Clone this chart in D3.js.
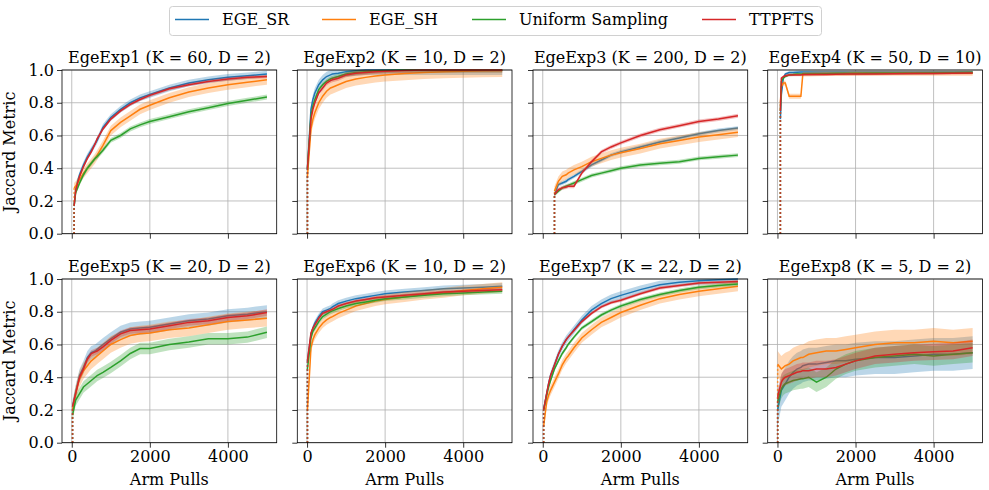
<!DOCTYPE html>
<html>
<head>
<meta charset="utf-8">
<script src="https://cdn.jsdelivr.net/npm/d3@7"></script>
<style>
  body { margin: 0; background: #fff; }
  svg { font-family: "DejaVu Serif", serif; }
</style>
</head>
<body>
<div id="chart"></div>
<script>
// series names and colours (matplotlib tab10)
const SERIES = ["EGE_SR", "EGE_SH", "Uniform Sampling", "TTPFTS"];
const COLORS = ["#1f77b4", "#ff7f0e", "#2ca02c", "#d62728"];

const TITLES = [
    "EgeExp1 (K = 60, D = 2)", "EgeExp2 (K = 10, D = 2)",
    "EgeExp3 (K = 200, D = 2)", "EgeExp4 (K = 50, D = 10)",
    "EgeExp5 (K = 20, D = 2)", "EgeExp6 (K = 10, D = 2)",
    "EgeExp7 (K = 22, D = 2)", "EgeExp8 (K = 5, D = 2)"
];

// first arm pull of each experiment (where the curves start)
const STARTS = [60, 10, 300, 75, 20, 10, 22, 5];

// pull counts sampled after the start point
const PULLS = [100, 150, 200, 300, 400, 500, 600, 650, 800, 1000, 1250, 1500, 1750, 2000, 2500, 3000, 3500, 4000, 4500, 5000];

const X_TICKS = [0, 2000, 4000];
const Y_TICKS = [0, 0.2, 0.4, 0.6, 0.8, 1.0];

// values: first entry at the start pull, then one per PULLS entry
// order in each experiment: EGE_SR, EGE_SH, Uniform Sampling, TTPFTS
const exp1 = [
    [0.17, 0.27, 0.32, 0.36, 0.42, 0.47, 0.51, 0.55, 0.57, 0.65, 0.71, 0.76, 0.80, 0.83, 0.85, 0.89, 0.92, 0.94, 0.955, 0.965, 0.975],
    [0.28, 0.29, 0.31, 0.33, 0.37, 0.40, 0.43, 0.46, 0.48, 0.54, 0.63, 0.68, 0.72, 0.76, 0.785, 0.83, 0.865, 0.89, 0.91, 0.925, 0.94],
    [0.17, 0.25, 0.28, 0.31, 0.36, 0.40, 0.43, 0.46, 0.47, 0.51, 0.57, 0.60, 0.64, 0.665, 0.685, 0.715, 0.745, 0.77, 0.795, 0.815, 0.835],
    [0.17, 0.26, 0.31, 0.35, 0.41, 0.46, 0.50, 0.55, 0.58, 0.64, 0.70, 0.75, 0.79, 0.82, 0.845, 0.885, 0.91, 0.93, 0.945, 0.955, 0.96]
];
const exp2 = [
    [0.40, 0.76, 0.82, 0.86, 0.91, 0.94, 0.96, 0.97, 0.975, 0.98, 0.99, 0.995, 1, 1, 1, 1, 1, 1, 1, 1, 1],
    [0.35, 0.64, 0.70, 0.74, 0.80, 0.84, 0.87, 0.89, 0.895, 0.91, 0.93, 0.945, 0.955, 0.963, 0.97, 0.978, 0.985, 0.99, 0.993, 0.995, 0.997],
    [0.40, 0.72, 0.78, 0.82, 0.88, 0.91, 0.93, 0.945, 0.95, 0.96, 0.975, 0.985, 0.99, 0.995, 0.997, 1, 1, 1, 1, 1, 1],
    [0.40, 0.70, 0.76, 0.80, 0.86, 0.89, 0.92, 0.935, 0.94, 0.95, 0.97, 0.98, 0.985, 0.99, 0.993, 0.997, 1, 1, 1, 1, 1]
];
const exp3 = [
    [0.24, null, null, null, null, 0.30, 0.31, 0.32, 0.33, 0.35, 0.38, 0.42, 0.45, 0.48, 0.50, 0.53, 0.56, 0.585, 0.61, 0.63, 0.645],
    [0.26, null, null, null, null, 0.32, 0.35, 0.36, 0.37, 0.39, 0.41, 0.44, 0.46, 0.48, 0.495, 0.52, 0.55, 0.57, 0.59, 0.605, 0.62],
    [0.24, null, null, null, null, 0.26, 0.28, 0.29, 0.295, 0.31, 0.33, 0.355, 0.37, 0.385, 0.40, 0.42, 0.43, 0.44, 0.46, 0.47, 0.48],
    [0.24, null, null, null, null, 0.27, 0.28, 0.285, 0.29, 0.29, 0.37, 0.44, 0.50, 0.53, 0.555, 0.60, 0.635, 0.66, 0.685, 0.70, 0.72]
];
const exp4 = [
    [0.70, 0.85, 0.95, 0.975, 0.985, 0.985, 0.987, 0.988, 0.988, 0.988, 0.988, 0.988, 0.988, 0.988, 0.988, 0.988, 0.988, 0.988, 0.988, 0.988, 0.988],
    [0.80, 0.90, 0.92, 0.92, 0.84, 0.84, 0.84, 0.84, 0.975, 0.975, 0.977, 0.978, 0.978, 0.978, 0.98, 0.98, 0.98, 0.98, 0.98, 0.98, 0.98],
    [0.75, 0.93, 0.95, 0.96, 0.97, 0.972, 0.975, 0.975, 0.975, 0.976, 0.976, 0.977, 0.978, 0.978, 0.978, 0.98, 0.98, 0.98, 0.982, 0.983, 0.985],
    [0.75, 0.95, 0.96, 0.965, 0.97, 0.97, 0.97, 0.97, 0.972, 0.972, 0.973, 0.973, 0.974, 0.975, 0.975, 0.976, 0.977, 0.978, 0.979, 0.98, 0.982]
];
const exp5 = [
    [0.22, 0.31, 0.36, 0.41, 0.46, 0.52, 0.55, 0.56, 0.57, 0.60, 0.635, 0.675, 0.695, 0.70, 0.705, 0.725, 0.745, 0.755, 0.775, 0.785, 0.80],
    [0.20, 0.30, 0.35, 0.39, 0.44, 0.47, 0.50, 0.52, 0.53, 0.56, 0.60, 0.63, 0.655, 0.665, 0.67, 0.69, 0.70, 0.72, 0.74, 0.75, 0.76],
    [0.17, 0.26, 0.28, 0.30, 0.34, 0.36, 0.38, 0.40, 0.41, 0.43, 0.46, 0.50, 0.545, 0.575, 0.575, 0.60, 0.615, 0.635, 0.635, 0.645, 0.675],
    [0.22, 0.30, 0.35, 0.40, 0.45, 0.51, 0.545, 0.555, 0.56, 0.585, 0.625, 0.665, 0.685, 0.69, 0.695, 0.715, 0.735, 0.745, 0.765, 0.775, 0.795]
];
const exp6 = [
    [0.50, 0.66, 0.70, 0.73, 0.77, 0.80, 0.81, 0.82, 0.83, 0.85, 0.865, 0.88, 0.89, 0.90, 0.91, 0.92, 0.93, 0.94, 0.945, 0.95, 0.955],
    [0.20, 0.58, 0.63, 0.66, 0.70, 0.73, 0.75, 0.765, 0.77, 0.79, 0.81, 0.835, 0.85, 0.865, 0.875, 0.89, 0.905, 0.915, 0.93, 0.94, 0.95],
    [0.45, 0.64, 0.68, 0.70, 0.74, 0.77, 0.785, 0.80, 0.805, 0.82, 0.835, 0.85, 0.86, 0.87, 0.88, 0.89, 0.90, 0.91, 0.915, 0.92, 0.925],
    [0.50, 0.67, 0.70, 0.72, 0.76, 0.79, 0.80, 0.81, 0.815, 0.835, 0.85, 0.865, 0.875, 0.885, 0.89, 0.90, 0.91, 0.92, 0.925, 0.93, 0.935]
];
const exp7 = [
    [0.20, 0.30, 0.36, 0.41, 0.475, 0.54, 0.59, 0.63, 0.645, 0.69, 0.75, 0.81, 0.85, 0.88, 0.90, 0.935, 0.965, 0.98, 0.99, 0.995, 1.0],
    [0.10, 0.25, 0.29, 0.32, 0.37, 0.42, 0.475, 0.515, 0.53, 0.58, 0.64, 0.69, 0.735, 0.765, 0.795, 0.84, 0.88, 0.905, 0.925, 0.94, 0.955],
    [0.20, 0.29, 0.34, 0.38, 0.45, 0.50, 0.545, 0.58, 0.60, 0.645, 0.70, 0.74, 0.78, 0.81, 0.835, 0.875, 0.905, 0.93, 0.95, 0.96, 0.97],
    [0.20, 0.30, 0.36, 0.41, 0.475, 0.54, 0.59, 0.63, 0.645, 0.685, 0.74, 0.79, 0.83, 0.855, 0.87, 0.91, 0.945, 0.96, 0.975, 0.98, 0.985]
];
const exp8 = [
    [0.20, 0.32, 0.34, 0.36, 0.40, 0.43, 0.45, 0.46, 0.47, 0.48, 0.48, 0.49, 0.50, 0.50, 0.51, 0.52, 0.52, 0.53, 0.54, 0.54, 0.55],
    [0.48, 0.45, 0.46, 0.47, 0.48, 0.50, 0.51, 0.52, 0.52, 0.54, 0.55, 0.56, 0.56, 0.57, 0.58, 0.60, 0.61, 0.61, 0.62, 0.61, 0.62],
    [0.25, 0.33, 0.35, 0.36, 0.37, 0.38, 0.385, 0.39, 0.39, 0.40, 0.37, 0.40, 0.45, 0.48, 0.50, 0.52, 0.53, 0.54, 0.53, 0.54, 0.55],
    [0.28, 0.37, 0.39, 0.40, 0.41, 0.42, 0.43, 0.435, 0.44, 0.44, 0.45, 0.45, 0.46, 0.48, 0.50, 0.53, 0.54, 0.55, 0.555, 0.56, 0.58]
];

// half width of the shaded band around each series, per experiment
const BANDS = [
    [0.02, 0.03, 0.015, 0.01],
    [0.03, 0.04, 0.015, 0.015],
    [0.012, 0.03, 0.012, 0.012],
    [0.008, 0.015, 0.008, 0.008],
    [0.04, 0.05, 0.035, 0.02],
    [0.02, 0.03, 0.015, 0.01],
    [0.025, 0.03, 0.012, 0.01],
    [0.1, 0.08, 0.06, 0.05]
];

const EXPERIMENTS = [exp1, exp2, exp3, exp4, exp5, exp6, exp7, exp8];

const W = 989, H = 490;
const panelW = 214.7, panelH = 163.7;
const lefts = [62, 297.3, 533, 767.7];
const tops = [70, 279];

const svg = d3.select("#chart").append("svg")
    .attr("width", W)
    .attr("height", H);

const xScale = d3.scaleLinear().domain([-250, 5250]).range([0, panelW]);
const yScale = d3.scaleLinear().domain([0, 1]).range([panelH, 0]);

EXPERIMENTS.forEach(function (exp, k) {
    const row = Math.floor(k / 4), col = k % 4;
    const g = svg.append("g")
        .attr("transform", "translate(" + lefts[col] + "," + tops[row] + ")");

    // grid
    g.append("g").selectAll("line")
        .data(X_TICKS)
        .join("line")
        .attr("x1", d => xScale(d)).attr("x2", d => xScale(d))
        .attr("y1", 0).attr("y2", panelH)
        .attr("stroke", "#b0b0b0").attr("stroke-width", 0.8);
    g.append("g").selectAll("line")
        .data(Y_TICKS)
        .join("line")
        .attr("x1", 0).attr("x2", panelW)
        .attr("y1", d => yScale(d)).attr("y2", d => yScale(d))
        .attr("stroke", "#b0b0b0").attr("stroke-width", 0.8);

    const start = STARTS[k];
    const plot = g.append("g");

    exp.forEach(function (vals, s) {
        let pts = [[start, vals[0]]];
        PULLS.forEach(function (p, i) {
            if (p > start && vals[i + 1] != null) pts.push([p, vals[i + 1]]);
        });
        const half = BANDS[k][s];

        const area = d3.area()
            .x(d => xScale(d[0]))
            .y0(d => yScale(Math.max(0, d[1] - half)))
            .y1(d => yScale(Math.min(1, d[1] + half)));
        plot.append("path")
            .datum(pts)
            .attr("d", area)
            .attr("fill", COLORS[s])
            .attr("fill-opacity", 0.3);

        const line = d3.line()
            .x(d => xScale(d[0]))
            .y(d => yScale(d[1]));
        plot.append("path")
            .datum(pts)
            .attr("d", line)
            .attr("fill", "none")
            .attr("stroke", COLORS[s])
            .attr("stroke-width", 1.5);

        // dotted drop from zero to the first value
        plot.append("line")
            .attr("x1", xScale(start)).attr("x2", xScale(start))
            .attr("y1", yScale(0)).attr("y2", yScale(vals[0]))
            .attr("stroke", COLORS[s])
            .attr("stroke-width", 1.5)
            .attr("stroke-dasharray", "1.5,2.5");
    });

    // axes
    const xAxis = d3.axisBottom(xScale).tickValues(X_TICKS).tickSize(5).tickPadding(3)
        .tickFormat(row === 1 ? d3.format("d") : () => "");
    const yAxis = d3.axisLeft(yScale).tickValues(Y_TICKS).tickSize(5).tickPadding(3)
        .tickFormat(col === 0 ? d3.format(".1f") : () => "");

    const gx = g.append("g").attr("transform", "translate(0," + panelH + ")").call(xAxis);
    const gy = g.append("g").call(yAxis);
    [gx, gy].forEach(function (a) {
        a.select(".domain").remove();
        a.selectAll(".tick line").attr("stroke", "#000").attr("stroke-width", 0.8);
        a.selectAll("text").attr("font-family", "DejaVu Serif").attr("font-size", 16).attr("fill", "#000");
    });

    g.append("rect")
        .attr("width", panelW).attr("height", panelH)
        .attr("fill", "none").attr("stroke", "#000").attr("stroke-width", 0.8);

    g.append("text")
        .attr("x", panelW / 2).attr("y", -7)
        .attr("text-anchor", "middle")
        .attr("font-size", 16)
        .text(TITLES[k]);

    if (row === 1) {
        g.append("text")
            .attr("x", panelW / 2).attr("y", panelH + 42)
            .attr("text-anchor", "middle")
            .attr("font-size", 16)
            .text("Arm Pulls");
    }
    if (col === 0) {
        g.append("text")
            .attr("transform", "translate(-47," + panelH / 2 + ") rotate(-90)")
            .attr("text-anchor", "middle")
            .attr("font-size", 16)
            .text("Jaccard Metric");
    }
});

// legend
const legend = svg.append("g");
legend.append("rect")
    .attr("x", 169.5).attr("y", 6.5)
    .attr("width", 652).attr("height", 29)
    .attr("rx", 3)
    .attr("fill", "#fff").attr("stroke", "#d0d0d0");

const legendX = [175, 322, 472, 702];
SERIES.forEach(function (name, i) {
    legend.append("line")
        .attr("x1", legendX[i]).attr("x2", legendX[i] + 34)
        .attr("y1", 19.5).attr("y2", 19.5)
        .attr("stroke", COLORS[i]).attr("stroke-width", 1.5);
    legend.append("text")
        .attr("x", legendX[i] + 47).attr("y", 25)
        .attr("font-size", 16)
        .text(name);
});
</script>
</body>
</html>
